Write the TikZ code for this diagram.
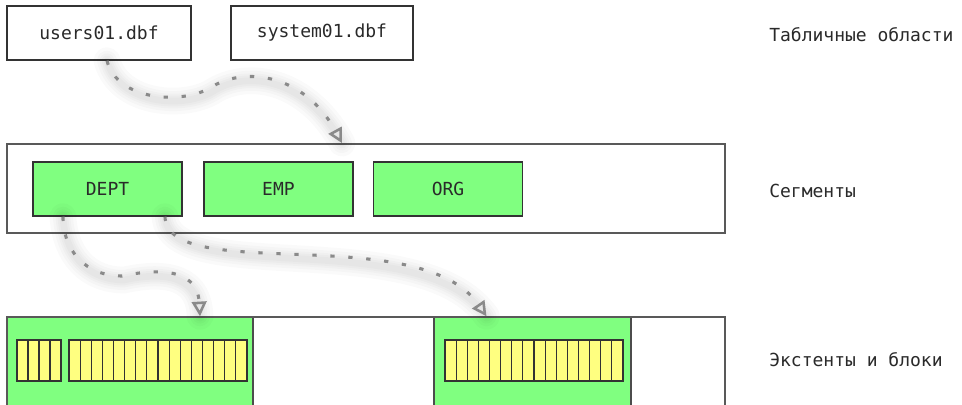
\documentclass[tikz,border=0pt]{standalone}
\usepackage{fontspec}
\newfontfamily\monof{DejaVu Sans Mono}
\usetikzlibrary{arrows.meta,calc}
\definecolor{segGreen}{HTML}{80FF80}
\definecolor{blkYellow}{HTML}{FFFF80}
\definecolor{edgeC}{HTML}{333333}
\definecolor{txtC}{HTML}{2A2A2A}
\definecolor{arrC}{HTML}{8A8A8A}
\tikzset{
  filebox/.style={draw=edgeC, line width=1.1pt, fill=white, minimum width=#1, minimum height=40.5pt, inner sep=0pt, text=txtC, font=\monof\fontsize{13.5pt}{16pt}\selectfont},
  segbox/.style={draw=edgeC, line width=1.1pt, fill=segGreen, minimum width=111.5pt, minimum height=40.5pt, inner sep=0pt, text=txtC, font=\monof\fontsize{13.5pt}{16pt}\selectfont},
  outerbox/.style={draw=black!65, line width=1.4pt, fill=none, inner sep=0pt},
  extbox/.style={draw=black!70, line width=1.1pt, fill=segGreen, inner sep=0pt},
  cell/.style={draw=edgeC, line width=0.8pt, fill=blkYellow},
  lbl/.style={anchor=base west, inner sep=0pt, text=txtC, font=\monof\fontsize{13.5pt}{16pt}\selectfont},
  link/.style={draw=arrC, line width=2.3pt, dash pattern=on 3.2pt off 10.3pt, -{Triangle[open,length=11pt,width=11pt,line width=1.9pt]}},
  glow/.style={draw=black, opacity=0.018, line width=#1, line cap=round},
}
\begin{document}
\begin{tikzpicture}[x=0.75pt,y=-0.75pt]
\useasboundingbox (0,0) rectangle (962,404);
\fill[white] (0,0) rectangle (962,404);

% tablespace files
\node[filebox=138pt] (users) at (99,33) {users01.dbf};
\node[filebox=136.5pt] (sys) at (322,33) {system01.dbf};

% segments container
\node[outerbox, minimum width=538.5pt, minimum height=66.75pt] (segs) at (366,188.5) {};
\node[segbox] (dept) at (107.5,189) {DEPT};
\node[segbox] (emp) at (278.5,189) {EMP};
\node[segbox] (org) at (448,189) {ORG};

% extents row
\node[extbox, minimum width=184.5pt, minimum height=79.5pt] (ext1) at (130,370) {};
\node[extbox, minimum width=147.75pt, minimum height=79.5pt] (ext2) at (532.5,370) {};
\draw[draw=black!65, line width=1.4pt] (7,423) -- (7,317) -- (725,317) -- (725,423);

% blocks
\foreach \i in {0,...,3} {\draw[cell] (17+\i*11,340) rectangle (28+\i*11,381);}
\foreach \i in {0,...,15} {\draw[cell] (69+\i*11.125,340) rectangle (80.125+\i*11.125,381);}
\foreach \i in {0,...,15} {\draw[cell] (445+\i*11.125,340) rectangle (456.125+\i*11.125,381);}

% labels
\node[lbl] (l1) at (769,41) {Табличные области};
\node[lbl] (l2) at (769,197) {Сегменты};
\node[lbl] (l3) at (769,366) {Экстенты и блоки};

% shadows of connectors
\begin{scope}[shift={(2,4)}]
\foreach \w in {20pt,15pt,11pt,8pt,5pt} {
  \draw[glow=\w] ([xshift=6pt]users.south) .. controls (117,100) and (180,105) .. (210,88) .. controls (245,65) and (305,75) .. ([xshift=-18pt]segs.north);
  \draw[glow=\w] ([xshift=-33.4pt]dept.south) .. controls (63,250) and (85,276) .. (122,276) .. controls (150,270) and (197,265) .. ([xshift=52.5pt]ext1.north);
  \draw[glow=\w] ([xshift=43.1pt]dept.south) .. controls (168,285) and (420,220) .. ([xshift=-34.5pt]ext2.north);
}
\end{scope}

% connectors
\draw[link] ([xshift=6pt]users.south) .. controls (117,100) and (180,105) .. (210,88) .. controls (245,65) and (305,75) .. ([xshift=-18pt]segs.north);
\draw[link] ([xshift=-33.4pt]dept.south) .. controls (63,250) and (85,276) .. (122,276) .. controls (150,270) and (197,265) .. ([xshift=52.5pt]ext1.north);
\draw[link] ([xshift=43.1pt]dept.south) .. controls (168,285) and (420,220) .. ([xshift=-34.5pt]ext2.north);
\end{tikzpicture}
\end{document}
